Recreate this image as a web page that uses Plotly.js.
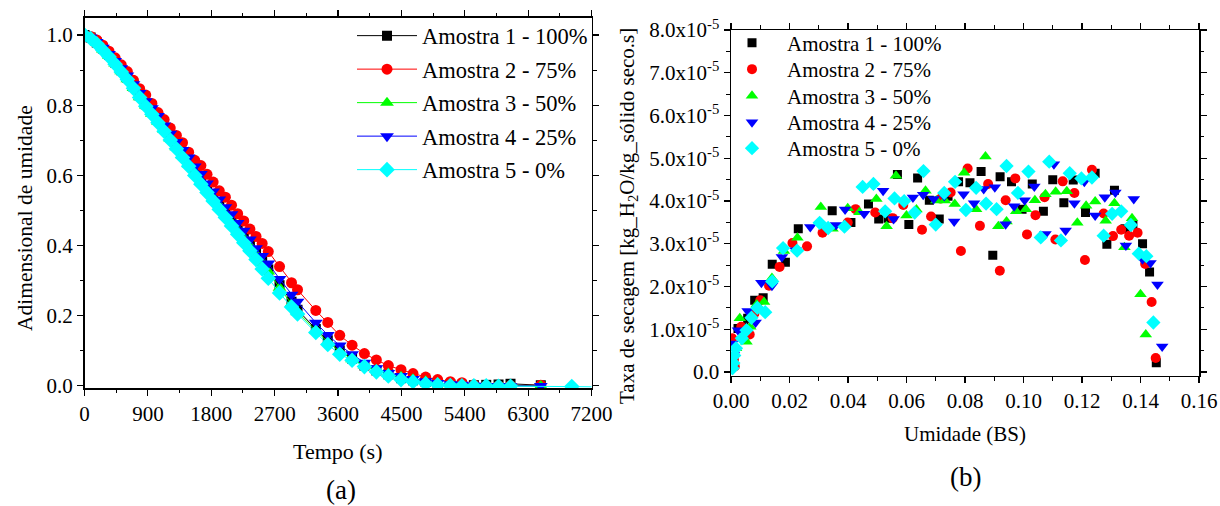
<!DOCTYPE html>
<html>
<head>
<meta charset="utf-8">
<script src="https://cdn.plot.ly/plotly-3.0.1.min.js"></script>
<style>
  html, body { margin: 0; padding: 0; background: #fff; }
  #chart { width: 1220px; height: 506px; }
</style>
</head>
<body>
<div id="chart"></div>
<script>
// ---- (a) dimensionless moisture vs. time ----
const tempo = [0, 87, 174, 261, 348, 435, 522, 609, 696, 783, 870, 957, 1044, 1131, 1218, 1305,
  1392, 1479, 1566, 1653, 1740, 1827, 1914, 2001, 2088, 2175, 2262, 2349, 2436, 2523, 2610,
  2770, 2940, 3025, 3285, 3455, 3625, 3800, 3975, 4145, 4315, 4495, 4665, 4845, 5015, 5195,
  5360, 5530, 5705, 5880, 6050, 6480];
const tempo5 = [0, 87, 174, 261, 348, 435, 522, 609, 696, 783, 870, 957, 1044, 1131, 1218, 1305,
  1392, 1479, 1566, 1653, 1740, 1827, 1914, 2001, 2088, 2175, 2262, 2349, 2436, 2523, 2610,
  2770, 2940, 3025, 3285, 3455, 3625, 3800, 3975, 4145, 4315, 4495, 4665, 4845, 5015, 5195,
  5360, 5530, 5705, 5880, 6050, 6920, 7400];

const adim1 = [1.0, 0.993, 0.979, 0.962, 0.943, 0.922, 0.9, 0.878, 0.853, 0.828, 0.803, 0.781,
  0.758, 0.733, 0.709, 0.684, 0.66, 0.636, 0.611, 0.588, 0.564, 0.541, 0.518, 0.495, 0.472,
  0.449, 0.427, 0.405, 0.383, 0.357, 0.332,
  0.287, 0.24, 0.217, 0.162, 0.13, 0.101, 0.078, 0.058, 0.044, 0.033, 0.022, 0.016, 0.011,
  0.007, 0.004, 0.003, 0.002, 0.003, 0.004, 0.006, 0.002];
const adim2 = [1.0, 0.996, 0.986, 0.971, 0.954, 0.935, 0.915, 0.896, 0.871, 0.847, 0.829, 0.805,
  0.779, 0.759, 0.735, 0.714, 0.693, 0.666, 0.643, 0.628, 0.603, 0.581, 0.556, 0.538, 0.515,
  0.491, 0.47, 0.447, 0.426, 0.406, 0.383,
  0.34, 0.294, 0.274, 0.215, 0.181, 0.144, 0.116, 0.092, 0.074, 0.058, 0.046, 0.035, 0.025,
  0.018, 0.012, 0.009, 0.003, 0.0, 0.0, 0.001, 0.002];
const adim3 = [1.0, 0.992, 0.977, 0.959, 0.94, 0.919, 0.897, 0.874, 0.849, 0.823, 0.799, 0.776,
  0.753, 0.729, 0.705, 0.68, 0.656, 0.632, 0.607, 0.583, 0.559, 0.536, 0.512, 0.489, 0.466,
  0.443, 0.42, 0.398, 0.375, 0.35, 0.326,
  0.28, 0.235, 0.21, 0.158, 0.125, 0.098, 0.076, 0.058, 0.045, 0.035, 0.026, 0.019, 0.013,
  0.008, 0.005, 0.003, 0.001, 0.0, -0.001, 0.0, 0.0];
const adim4 = [1.0, 0.993, 0.98, 0.964, 0.946, 0.926, 0.905, 0.885, 0.86, 0.835, 0.811, 0.791,
  0.769, 0.742, 0.719, 0.695, 0.672, 0.651, 0.625, 0.604, 0.577, 0.554, 0.531, 0.509, 0.489,
  0.464, 0.442, 0.417, 0.392, 0.37, 0.349,
  0.305, 0.26, 0.24, 0.18, 0.145, 0.115, 0.09, 0.066, 0.05, 0.037, 0.028, 0.02, 0.013,
  0.008, 0.005, 0.003, 0.001, 0.0, 0.0, -0.001, 0.0];
const adim5 = [1.0, 0.99, 0.975, 0.957, 0.938, 0.917, 0.895, 0.873, 0.848, 0.822, 0.797, 0.774,
  0.75, 0.726, 0.701, 0.676, 0.651, 0.626, 0.6, 0.575, 0.551, 0.527, 0.503, 0.48, 0.456,
  0.432, 0.408, 0.385, 0.36, 0.333, 0.307,
  0.265, 0.225, 0.205, 0.152, 0.118, 0.09, 0.073, 0.055, 0.04, 0.028, 0.018, 0.012, 0.006,
  0.003, 0.001, 0.0, 0.0, 0.0, -0.001, -0.001, -0.002, -0.003];

// ---- (b) drying rate vs. moisture (dry basis) ----
const umid1 = [0.0006, 0.0024, 0.0044, 0.0057, 0.0081, 0.011, 0.0141, 0.0186, 0.023, 0.0346, 0.041,
  0.047, 0.0505, 0.0537, 0.0569, 0.0608, 0.0638, 0.0678, 0.0712, 0.0742, 0.0778, 0.0817, 0.0855,
  0.0895, 0.092, 0.0959, 0.0995, 0.103, 0.1068, 0.11, 0.1138, 0.117, 0.1212, 0.1245, 0.1285,
  0.1311, 0.1347, 0.1374, 0.1407, 0.1431, 0.1454];
const taxa1 = [0.35e-5, 1.02e-5, 1.06e-5, 1.26e-5, 1.68e-5, 1.74e-5, 2.52e-5, 2.57e-5, 3.35e-5, 3.77e-5, 3.5e-5,
  3.93e-5, 3.58e-5, 3.6e-5, 4.62e-5, 3.45e-5, 4.54e-5, 4.02e-5, 3.58e-5, 4.11e-5, 4.45e-5, 4.43e-5, 4.69e-5,
  2.73e-5, 4.57e-5, 4.45e-5, 3.81e-5, 4.4e-5, 3.76e-5, 4.5e-5, 3.96e-5, 4.49e-5, 3.73e-5, 4.65e-5, 2.99e-5,
  4.25e-5, 3.35e-5, 3.44e-5, 3.0e-5, 2.34e-5, 0.22e-5];

const umid2 = [0.0004, 0.001, 0.0013, 0.0035, 0.005, 0.0064, 0.008, 0.01, 0.013, 0.0166, 0.021, 0.026,
  0.0313, 0.0399, 0.0426, 0.0493, 0.0553, 0.0589, 0.0653, 0.0684, 0.0717, 0.0751, 0.0786, 0.0809,
  0.0851, 0.0879, 0.0919, 0.0939, 0.0972, 0.1012, 0.1041, 0.1072, 0.1109, 0.1134, 0.1174, 0.121,
  0.1234, 0.1274, 0.1306, 0.1334, 0.1361, 0.139, 0.1416, 0.1438, 0.1452];
const taxa2 = [0.79e-5, 0.29e-5, 0.13e-5, 1.06e-5, 0.98e-5, 0.88e-5, 1.37e-5, 1.68e-5, 2.02e-5, 2.46e-5, 3.02e-5, 2.94e-5,
  3.26e-5, 3.5e-5, 3.81e-5, 3.73e-5, 3.6e-5, 3.91e-5, 3.33e-5, 3.64e-5, 4.06e-5, 4.2e-5, 2.83e-5, 4.76e-5,
  3.42e-5, 4.4e-5, 2.37e-5, 4.02e-5, 4.53e-5, 3.22e-5, 3.67e-5, 4.09e-5, 3.1e-5, 4.46e-5, 4.19e-5, 2.62e-5,
  4.73e-5, 3.71e-5, 3.18e-5, 3.33e-5, 3.19e-5, 3.26e-5, 2.53e-5, 1.64e-5, 0.33e-5];

const umid3 = [0.0008, 0.0017, 0.003, 0.0053, 0.0066, 0.0088, 0.0113, 0.014, 0.0181, 0.0227, 0.0307,
  0.0347, 0.0399, 0.0439, 0.0497, 0.0532, 0.0564, 0.06, 0.0634, 0.0665, 0.0702, 0.0731, 0.0765,
  0.0797, 0.0838, 0.087, 0.0914, 0.0942, 0.0975, 0.1008, 0.1039, 0.1075, 0.111, 0.1148, 0.1184,
  0.1214, 0.1245, 0.1281, 0.1311, 0.1345, 0.1371, 0.14, 0.1418];
const taxa3 = [0.25e-5, 0.56e-5, 1.26e-5, 0.71e-5, 1.06e-5, 1.58e-5, 1.64e-5, 2.2e-5, 2.83e-5, 3.14e-5, 3.86e-5,
  3.35e-5, 3.83e-5, 3.74e-5, 4.05e-5, 3.41e-5, 4.59e-5, 3.66e-5, 3.8e-5, 4.24e-5, 4.01e-5, 4.01e-5, 3.93e-5,
  4.66e-5, 3.81e-5, 5.04e-5, 3.41e-5, 3.52e-5, 3.76e-5, 3.81e-5, 4.02e-5, 4.16e-5, 4.22e-5, 4.23e-5, 3.49e-5,
  3.89e-5, 3.99e-5, 3.54e-5, 3.95e-5, 2.92e-5, 3.6e-5, 1.82e-5, 0.88e-5];

const umid4 = [0.0004, 0.001, 0.0024, 0.0057, 0.0084, 0.0104, 0.014, 0.0174, 0.0221, 0.0271, 0.0359,
  0.039, 0.0455, 0.052, 0.0556, 0.059, 0.0622, 0.0657, 0.0693, 0.0729, 0.0763, 0.0795, 0.0831,
  0.0864, 0.0902, 0.0939, 0.0968, 0.1004, 0.1037, 0.1075, 0.1104, 0.1144, 0.1174, 0.1208, 0.1245,
  0.1278, 0.1314, 0.135, 0.1377, 0.1407, 0.1434, 0.1458, 0.1474];
const taxa4 = [0.67e-5, 0.4e-5, 0.98e-5, 1.43e-5, 1.16e-5, 2.09e-5, 2.02e-5, 2.69e-5, 2.85e-5, 3.39e-5, 3.44e-5,
  3.8e-5, 3.7e-5, 4.24e-5, 3.58e-5, 3.98e-5, 4.08e-5, 4.15e-5, 4.05e-5, 4.12e-5, 3.52e-5, 4.16e-5, 3.95e-5,
  4.28e-5, 4.32e-5, 3.46e-5, 3.88e-5, 4.02e-5, 4.34e-5, 3.23e-5, 4.86e-5, 3.31e-5, 3.95e-5, 4.45e-5, 3.66e-5,
  4.09e-5, 4.2e-5, 2.96e-5, 4.05e-5, 2.64e-5, 2.55e-5, 2.05e-5, 0.6e-5];

const umid5 = [0.0005, 0.0008, 0.0011, 0.0017, 0.0037, 0.0053, 0.007, 0.009, 0.0117, 0.0141, 0.0178,
  0.0226, 0.0303, 0.0332, 0.0388, 0.045, 0.0487, 0.0527, 0.0559, 0.0592, 0.0628, 0.0658, 0.07,
  0.0729, 0.0766, 0.0803, 0.0838, 0.0872, 0.0908, 0.0942, 0.0981, 0.1017, 0.1059, 0.1088, 0.1128,
  0.1158, 0.1198, 0.1234, 0.1274, 0.1303, 0.1334, 0.1367, 0.1394, 0.142, 0.1444];
const taxa5 = [0.09e-5, 0.21e-5, 0.39e-5, 0.56e-5, 0.79e-5, 0.98e-5, 1.27e-5, 1.5e-5, 1.4e-5, 2.12e-5, 2.9e-5,
  2.84e-5, 3.49e-5, 3.37e-5, 3.4e-5, 4.33e-5, 4.4e-5, 3.76e-5, 4.06e-5, 4.0e-5, 3.73e-5, 4.7e-5, 3.45e-5,
  4.19e-5, 4.45e-5, 3.79e-5, 4.31e-5, 3.94e-5, 3.81e-5, 4.82e-5, 4.19e-5, 4.69e-5, 3.15e-5, 4.92e-5, 3.08e-5,
  4.65e-5, 4.53e-5, 4.55e-5, 3.19e-5, 3.7e-5, 3.76e-5, 3.44e-5, 2.77e-5, 2.71e-5, 1.16e-5];

const nomes = ['Amostra 1 - 100%', 'Amostra 2 - 75%', 'Amostra 3 - 50%', 'Amostra 4 - 25%', 'Amostra 5 - 0%'];
const cores = ['#000000', '#ff0000', '#00ff00', '#0000ff', '#00ffff'];
const simbolos = ['square', 'circle', 'triangle-up', 'triangle-down', 'diamond'];
const tamanhos = [10, 11, 12, 12, 12];

const xTicks = [0, 900, 1800, 2700, 3600, 4500, 5400, 6300, 7200];
const yTicksB = [0, 1e-5, 2e-5, 3e-5, 4e-5, 5e-5, 6e-5, 7e-5, 8e-5];
const yTickTextB = ['0.0', '1.0x10<sup>-5</sup>', '2.0x10<sup>-5</sup>', '3.0x10<sup>-5</sup>',
  '4.0x10<sup>-5</sup>', '5.0x10<sup>-5</sup>', '6.0x10<sup>-5</sup>', '7.0x10<sup>-5</sup>',
  '8.0x10<sup>-5</sup>'];
const yMinorB = [0.5e-5, 1.5e-5, 2.5e-5, 3.5e-5, 4.5e-5, 5.5e-5, 6.5e-5, 7.5e-5];

const W = 1220, H = 506;
const px = v => v / W;
const py = v => 1 - v / H;
const serif = 'Liberation Serif';

// vertical centre (px) of each legend row, per panel
const linhasLegA = [36, 69.5, 103, 136.5, 170];
const linhasLegB = [43, 69.5, 96, 122.5, 148.5];

const curvasX = [tempo, tempo, tempo, tempo, tempo5];
const curvasY = [adim1, adim2, adim3, adim4, adim5];
const pontosX = [umid1, umid2, umid3, umid4, umid5];
const pontosY = [taxa1, taxa2, taxa3, taxa4, taxa5];

const legId = n => (n === 1 ? 'legend' : 'legend' + n);

const traces = [];
for (let i = 0; i < 5; i++) {
  traces.push({
    type: 'scatter', mode: 'lines+markers',
    x: curvasX[i], y: curvasY[i], name: nomes[i], showlegend: true,
    xaxis: 'x', yaxis: 'y', legend: legId(i + 1),
    line: { color: cores[i], width: 1 },
    marker: { symbol: simbolos[i], size: tamanhos[i], color: cores[i], line: { width: 0 } }
  });
}
for (let i = 0; i < 5; i++) {
  traces.push({
    type: 'scatter', mode: 'markers',
    x: pontosX[i], y: pontosY[i], name: nomes[i], showlegend: true,
    xaxis: 'x2', yaxis: 'y2', legend: legId(i + 6),
    marker: { symbol: simbolos[i], size: tamanhos[i] - 1, color: cores[i], line: { width: 0 } }
  });
}

const eixo = {
  showline: true, linecolor: '#000', linewidth: 1.5, mirror: 'allticks',
  ticks: 'outside', ticklen: 6, tickwidth: 1.2, tickcolor: '#000',
  showgrid: false, zeroline: false, automargin: false,
  tickfont: { family: serif, size: 21, color: '#000' }
};

function rotulo(text, x, y, size, angle) {
  return { text: text, x: px(x), y: py(y), xref: 'paper', yref: 'paper',
    xanchor: 'center', yanchor: 'middle', textangle: angle || 0, showarrow: false,
    font: { family: serif, size: size, color: '#000' } };
}

const layout = {
  width: W, height: H,
  margin: { l: 0, r: 0, t: 0, b: 0 },
  paper_bgcolor: '#fff', plot_bgcolor: '#fff',
  showlegend: true,
  font: { family: serif, color: '#000' },
  xaxis: Object.assign({}, eixo, {
    domain: [px(84.5), px(591.5)], anchor: 'y',
    range: [0, 7200], tickmode: 'array', tickvals: xTicks,
    minor: { dtick: 450, tick0: 0, ticklen: 3.5, tickwidth: 1, tickcolor: '#000', ticks: 'outside' }
  }),
  yaxis: Object.assign({}, eixo, {
    domain: [py(388), py(17.5)], anchor: 'x',
    range: [-0.006, 1.05], dtick: 0.2, tick0: 0, tickformat: '.1f',
    minor: { dtick: 0.1, tick0: 0, ticklen: 3.5, tickwidth: 1, tickcolor: '#000', ticks: 'outside' }
  }),
  xaxis2: Object.assign({}, eixo, {
    domain: [px(731), px(1199)], anchor: 'y2',
    range: [0, 0.16], dtick: 0.02, tick0: 0, tickformat: '.2f',
    minor: { dtick: 0.01, tick0: 0, ticklen: 3.5, tickwidth: 1, tickcolor: '#000', ticks: 'outside' }
  }),
  yaxis2: Object.assign({}, eixo, {
    domain: [py(375.5), py(30)], anchor: 'x2',
    range: [-0.08e-5, 8e-5], tickmode: 'array', tickvals: yTicksB, ticktext: yTickTextB,
    minor: { tickmode: 'array', tickvals: yMinorB, ticklen: 3.5, tickwidth: 1, tickcolor: '#000', ticks: 'outside' }
  }),
  annotations: [
    rotulo('Adimensional de umidade', 25, 218, 21.5, -90),
    rotulo('Tempo (s)', 338, 451, 22),
    rotulo('(a)', 341, 490, 27),
    rotulo('Taxa de secagem [kg_H<sub>2</sub>O/kg_sólido seco.s]', 628, 216, 21, -90),
    rotulo('Umidade (BS)', 965, 434, 21),
    rotulo('(b)', 965, 477, 27)
  ]
};

// one legend box per row so every row sits at its own height
for (let i = 0; i < 5; i++) {
  layout[legId(i + 1)] = {
    x: px(352), y: py(linhasLegA[i]), xanchor: 'left', yanchor: 'middle',
    bgcolor: 'rgba(0,0,0,0)', borderwidth: 0, itemwidth: 60, visible: true,
    font: { family: serif, size: 22.5, color: '#000' }
  };
  layout[legId(i + 6)] = {
    x: px(717), y: py(linhasLegB[i]), xanchor: 'left', yanchor: 'middle',
    bgcolor: 'rgba(0,0,0,0)', borderwidth: 0, itemwidth: 60, visible: true,
    font: { family: serif, size: 21, color: '#000' }
  };
}

Plotly.newPlot('chart', traces, layout, { staticPlot: true, displayModeBar: false });
</script>
</body>
</html>
